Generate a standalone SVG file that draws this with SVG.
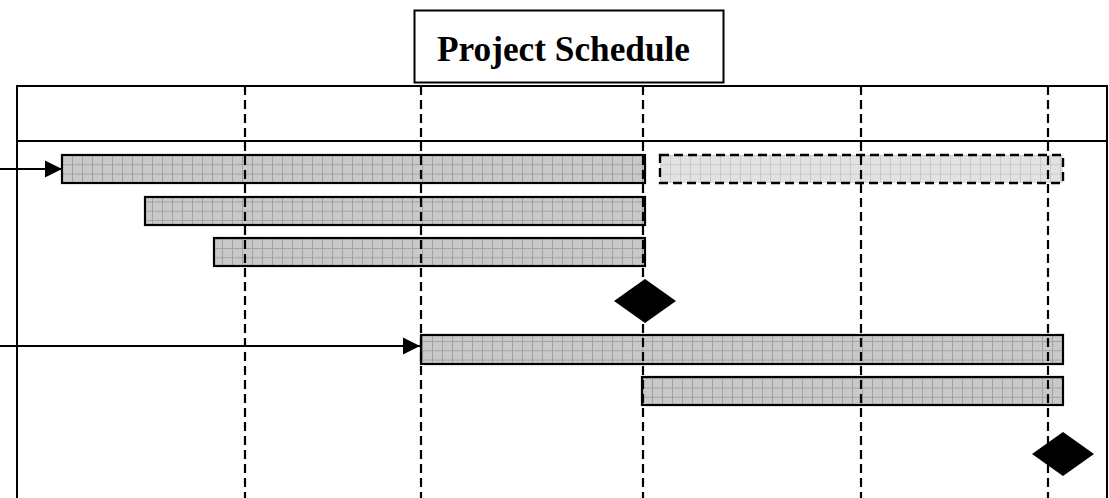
<svg xmlns="http://www.w3.org/2000/svg" width="1109" height="498" viewBox="0 0 1109 498">
<style>
.frame{fill:none;stroke:#000;stroke-width:2}
.bar{fill:url(#grid);stroke:#000;stroke-width:2.2}
.plan{fill:url(#gridLight);stroke:#000;stroke-width:2.4;stroke-dasharray:9 5}
.vdash{stroke:#000;stroke-width:2.2;stroke-dasharray:9 5;fill:none}
.ms{fill:#000}
.conn{stroke:#000;stroke-width:2;fill:none}
.title{font-family:"Liberation Serif","Times New Roman",serif;font-weight:bold;font-size:35px;fill:#000}
</style>
<defs>
<pattern id="grid" width="10" height="9.3" patternUnits="userSpaceOnUse" x="2" y="155">
<rect width="10" height="9.3" fill="#c9c9c9"/>
<path d="M0 0.5H10M0.5 0V9.3" stroke="#a2a2a2" stroke-width="1"/>
</pattern>
<pattern id="gridLight" width="10" height="9.3" patternUnits="userSpaceOnUse" x="0" y="155">
<rect width="10" height="9.3" fill="#e2e2e2"/>
<path d="M0 0.5H10M0.5 0V9.3" stroke="#cacaca" stroke-width="1"/>
</pattern>
<marker id="arrow" markerWidth="18" markerHeight="18" refX="17" refY="9" orient="auto" markerUnits="userSpaceOnUse">
<path d="M0 0.5L17 9L0 17.5Z" fill="#000"/>
</marker>
</defs>
<g id="title">
<rect x="414.5" y="10.5" width="309" height="72" fill="#fff" stroke="#000" stroke-width="2"/>
<text class="title" x="437" y="60.5" textLength="253" lengthAdjust="spacingAndGlyphs">Project Schedule</text>
</g>
<g id="chart-frame">
<path class="frame" d="M17 498V86H1107V498"/>
<line x1="17" y1="141" x2="1107" y2="141" stroke="#000" stroke-width="1.8"/>
</g>
<g id="task-1"><rect class="bar" x="62" y="155" width="583" height="28"/></g>
<g id="task-1-plan"><rect class="plan" x="660" y="155" width="403" height="28"/></g>
<g id="task-2"><rect class="bar" x="145" y="197" width="500" height="28"/></g>
<g id="task-3"><rect class="bar" x="214" y="238" width="431" height="28"/></g>
<g id="task-4"><rect class="bar" x="421" y="335" width="642" height="29"/></g>
<g id="task-5"><rect class="bar" x="642" y="377" width="421" height="28"/></g>
<g id="gridlines">
<line class="vdash" x1="245" y1="86" x2="245" y2="498"/>
<line class="vdash" x1="421" y1="86" x2="421" y2="498"/>
<line class="vdash" x1="643" y1="86" x2="643" y2="498"/>
<line class="vdash" x1="861" y1="86" x2="861" y2="498"/>
<line class="vdash" x1="1048" y1="86" x2="1048" y2="498"/>
</g>
<g id="milestone-1"><path class="ms" d="M645 279L676 301L645 323L614 301Z"/></g>
<g id="milestone-2"><path class="ms" d="M1063 432L1094 454L1063 476L1032 454Z"/></g>
<g id="connectors">
<line class="conn" x1="0" y1="169" x2="62" y2="169" marker-end="url(#arrow)"/>
<line class="conn" x1="0" y1="346" x2="420" y2="346" marker-end="url(#arrow)"/>
</g>
</svg>
